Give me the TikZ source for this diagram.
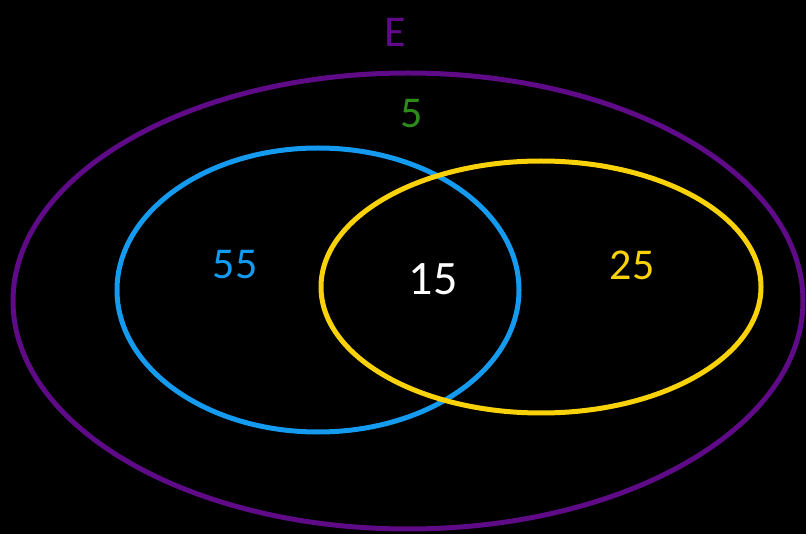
\documentclass[tikz,border=0pt]{standalone}
\usepackage{fontspec}
\setmainfont{Carlito}
\definecolor{epurple}{RGB}{95,10,135}
\definecolor{eblue}{RGB}{20,155,240}
\definecolor{eyellow}{RGB}{250,210,10}
\definecolor{egreen}{RGB}{45,140,25}
\begin{document}
\begin{tikzpicture}[x=1pt,y=-1pt,
  setline/.style={line width=5pt},
  lbl/.style={font=\fontsize{44}{44}\selectfont, inner sep=0pt},
  biglbl/.style={font=\fontsize{48}{48}\selectfont, inner sep=0pt}]
\fill[black] (0,0) rectangle (806,534);
\useasboundingbox (0,0) rectangle (806,534);
\draw[setline, epurple] (408,301) ellipse [x radius=395, y radius=228];
\draw[setline, eblue] (318,290) ellipse [x radius=201, y radius=142];
\draw[setline, eyellow] (541,287) ellipse [x radius=220, y radius=126];
\node[lbl, text=epurple] (E) at (395,32) {E};
\node[lbl, text=egreen] (n5) at (412,114) {5};
\node[lbl, text=eblue] (n55) at (235,265) {55};
\node[biglbl, text=white] (n15) at (433,279) {15};
\node[lbl, text=eyellow] (n25) at (632,265) {25};
\end{tikzpicture}
\end{document}
